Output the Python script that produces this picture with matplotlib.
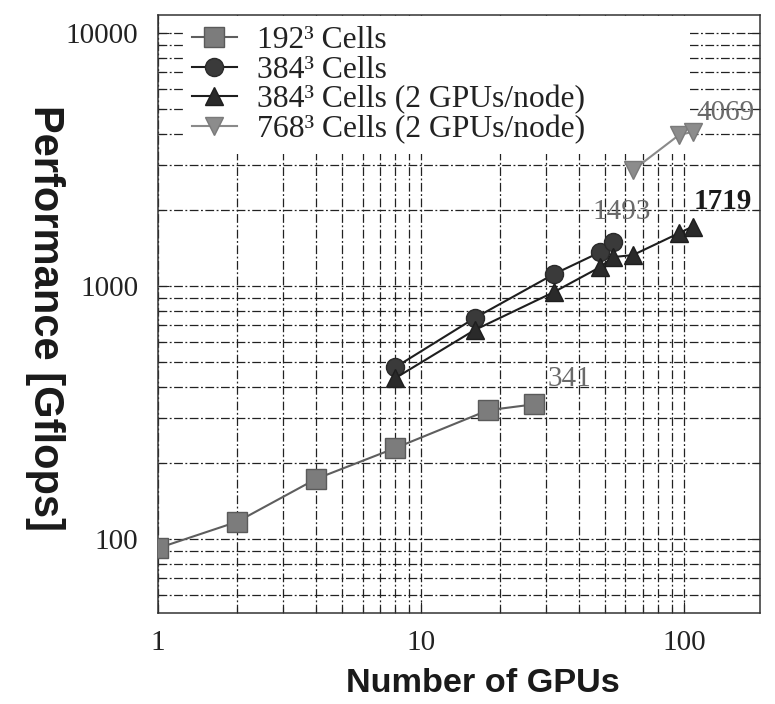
import matplotlib
matplotlib.use("Agg")
import matplotlib.pyplot as plt
from matplotlib.ticker import FixedLocator, FixedFormatter, NullFormatter

# данные
gpus_192 = [1, 2, 4, 8, 18, 27]
perf_192 = [92, 117, 173, 229, 323, 341]

gpus_384 = [8, 16, 32, 48, 54]
perf_384 = [478, 747, 1114, 1361, 1493]

gpus_384_2 = [8, 16, 32, 48, 54, 64, 96, 108]
perf_384_2 = [433, 670, 946, 1188, 1303, 1326, 1620, 1719]

gpus_768_2 = [64, 96, 108]
perf_768_2 = [2870, 3960, 4069]

labels = ["192³ Cells", "384³ Cells", "384³ Cells (2 GPUs/node)", "768³ Cells (2 GPUs/node)"]
x_ticks = [1, 10, 100]
y_ticks = [100, 1000, 10000]

serif = "Liberation Serif"
sans = "Liberation Sans"

fig = plt.figure(figsize=(7.75, 7.04), dpi=100)
ax = fig.add_axes([158 / 775, 1 - 613 / 704, (760 - 158) / 775, (613 - 15) / 704])

ax.plot(gpus_192, perf_192, '-s', color='#5e5e5e', lw=1.5, ms=14,
        mfc='#7c7c7c', mec='#5a5a5a', label=labels[0], zorder=3)
ax.plot(gpus_384, perf_384, '-o', color='#1e1e1e', lw=1.5, ms=13,
        mfc='#3a3a3a', mec='#2a2a2a', label=labels[1], zorder=3)
ax.plot(gpus_384_2, perf_384_2, '-^', color='#1e1e1e', lw=1.5, ms=13,
        mfc='#2a2a2a', mec='#1e1e1e', label=labels[2], zorder=3)
ax.plot(gpus_768_2, perf_768_2, '-v', color='#8a8a8a', lw=1.5, ms=13,
        mfc='#8c8c8c', mec='#7a7a7a', label=labels[3], zorder=3)

ax.set_xscale('log')
ax.set_yscale('log')
ax.set_xlim(1, 195)
ax.set_ylim(51, 11800)

ax.xaxis.set_major_locator(FixedLocator(x_ticks))
ax.xaxis.set_major_formatter(FixedFormatter([str(v) for v in x_ticks]))
ax.yaxis.set_major_locator(FixedLocator(y_ticks))
ax.yaxis.set_major_formatter(FixedFormatter([str(v) for v in y_ticks]))
ax.xaxis.set_minor_formatter(NullFormatter())
ax.yaxis.set_minor_formatter(NullFormatter())

ax.tick_params(which='both', direction='in', top=True, right=True, color='#222222')
ax.tick_params(which='major', length=8, width=0.8, labelsize=21, pad=12)
ax.tick_params(which='minor', length=4, width=0.8)
ax.tick_params(axis='y', which='major', pad=14)
for t in ax.get_xticklabels() + ax.get_yticklabels():
    t.set_fontfamily(serif)
    t.set_color('#222222')

ax.grid(True, which='both', color='#222222', lw=0.9, linestyle=(0, (7, 2, 1.5, 2)))
for s in ax.spines.values():
    s.set_color('#333333')
    s.set_linewidth(1.1)

# подписи последних значений
ax.annotate(str(perf_192[-1]), (gpus_192[-1], perf_192[-1]), xytext=(25, 18),
            textcoords='offset points', ha='center', va='center',
            fontsize=21, family=serif, color='#6a6a6a', zorder=4)
ax.annotate(str(perf_384[-1]), (gpus_384[-1], perf_384[-1]), xytext=(6, 22),
            textcoords='offset points', ha='center', va='center',
            fontsize=21, family=serif, color='#6a6a6a', zorder=4)
ax.annotate(str(perf_384_2[-1]), (gpus_384_2[-1], perf_384_2[-1]), xytext=(22, 18),
            textcoords='offset points', ha='center', va='center',
            fontsize=21, family=serif, color='#1a1a1a', fontweight='bold', zorder=4)
ax.annotate(str(perf_768_2[-1]), (gpus_768_2[-1], perf_768_2[-1]), xytext=(24, 14),
            textcoords='offset points', ha='center', va='center',
            fontsize=21, family=serif, color='#6a6a6a', zorder=4)

# легенда закрывает сетку, но не данные
leg = ax.legend(loc='upper left', bbox_to_anchor=(0.041, 0.0, 0.842, 0.998),
                mode='expand', borderaxespad=0,
                prop={'family': serif, 'size': 22.8}, frameon=True, fancybox=False,
                framealpha=1, facecolor='white', edgecolor='none',
                borderpad=0.3, handlelength=1.4, handletextpad=0.65,
                labelspacing=0.02)
leg.set_zorder(2.5)
for t in leg.get_texts():
    t.set_color('#222222')

fig.text(483 / 775, 1 - 683 / 704, "Number of GPUs", ha='center', va='center',
         fontsize=24.7, family=sans, fontweight='bold', color='#1a1a1a')
fig.text(45 / 775, 1 - 318 / 704, "Performance [Gflops]", ha='center', va='center',
         rotation=270, fontsize=30, family=sans, fontweight='bold', color='#1a1a1a')

fig.savefig("out.png", dpi=100)
